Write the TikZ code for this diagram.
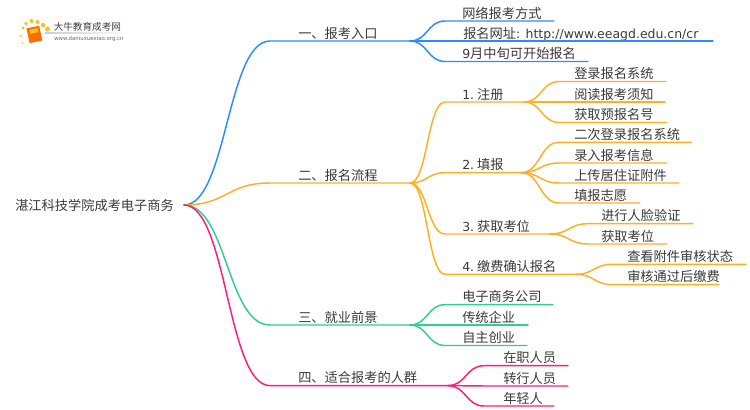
\documentclass[tikz,border=0pt]{standalone}
\usepackage{fontspec}
\setmainfont{DejaVu Sans}
\newfontfamily\cjk[Scale=1.06]{Noto Sans CJK SC}
\newcommand{\zh}[1]{{\cjk #1}}
\newcommand{\numgap}{\hspace{2.2pt}}
\definecolor{cblue}{HTML}{2B8CFF}
\definecolor{corange}{HTML}{FFAF24}
\definecolor{cgreen}{HTML}{2FCF90}
\definecolor{cpink}{HTML}{FF1C80}
\definecolor{ctext}{HTML}{3A3A3A}
\tikzset{
  label/.style={anchor=base west,inner sep=0pt,text=ctext,font=\fontsize{9.35pt}{12pt}\selectfont},
  wire/.style={line width=1.1pt,line cap=round},
}
% \branch{name}{parent}{colour}{x start}{x end}{y}{text x}{text}
\newcommand{\branch}[8]{%
  \coordinate (#1s) at (#4,#6);
  \coordinate (#1e) at (#5,#6);
  \node[label] (#1) at (#7,#6-2.8) {#8};
  \draw[wire,#3] (#2) .. controls +(0.5*#4-0.5*\px,0) and +(0.5*\px-0.5*#4,0) .. (#1s) -- (#1e);
}
\begin{document}
\begin{tikzpicture}[x=0.75pt,y=-0.75pt]
\useasboundingbox (0,0) rectangle (750,410);
\fill[white] (0,0) rectangle (750,410);
% logo
\foreach \a/\b/\r in {22.5/43/0.9,21/36/1.2,23/28/1.6,26/23.5/1.8,31.5/21/2,37.5/22/2,43/25/2.2,47.5/29/2.4}
  \fill[corange!85!yellow] (\a,\b) circle (\r);
\fill[orange!85!red,rotate around={12:(34,35)}] (28,27) rectangle (41,42);
\fill[corange!70!yellow,rotate around={12:(34,35)}] (30.5,29) rectangle (39,33);
\shade[left color=black!20,right color=white,draw=none] (45,32.8) rectangle (132,33.6);
\node[anchor=base west,inner sep=0pt,text=black!75,font=\fontsize{6.8pt}{8pt}\selectfont] (logoa) at (53.5,31) {\zh{大牛教育成考网}};
\node[anchor=base west,inner sep=0pt,text=black!60,font=\fontsize{4.05pt}{5pt}\selectfont] (logob) at (54,41) {www.daniuxuexiao.org.cn};
% root
\node[label] (root) at (15,210.5) {\zh{湛江科技学院成考电子商务}};
\coordinate (r) at (184,205);
\def\px{184}
\branch{a}{r}{cblue}{270}{410}{41}{298}{\zh{一、报考入口}}
\branch{b}{r}{corange}{270}{410}{183}{298}{\zh{二、报名流程}}
\branch{c}{r}{cgreen}{270}{410}{325}{298}{\zh{三、就业前景}}
\branch{d}{r}{cpink}{270}{448}{385.6}{298}{\zh{四、适合报考的人群}}
\coordinate (ae) at (410,41);
\def\px{410}
\branch{a1}{ae}{cblue}{445}{554}{21}{462}{\zh{网络报考方式}}
\branch{a2}{ae}{cblue}{445}{713}{41}{463}{\zh{报名网址}: http://www.eeagd.edu.cn/cr}
\branch{a3}{ae}{cblue}{445}{588}{61.5}{462}{9\zh{月中旬可开始报名}}
\branch{b1}{be}{corange}{445}{524}{102}{462}{1.\numgap\zh{注册}}
\branch{b2}{be}{corange}{445}{521}{172.7}{462}{2.\numgap\zh{填报}}
\branch{b3}{be}{corange}{445}{550}{234}{462}{3.\numgap\zh{获取考位}}
\branch{b4}{be}{corange}{445}{576}{274.3}{462}{4.\numgap\zh{缴费确认报名}}
\branch{c1}{ce}{cgreen}{445}{553}{304.7}{462}{\zh{电子商务公司}}
\branch{c2}{ce}{cgreen}{445}{528}{325}{462}{\zh{传统企业}}
\branch{c3}{ce}{cgreen}{445}{527}{345.5}{462}{\zh{自主创业}}
\def\px{524}
\branch{b11}{b1e}{corange}{559}{666}{81.5}{574}{\zh{登录报名系统}}
\branch{b12}{b1e}{corange}{559}{665}{102}{574}{\zh{阅读报考须知}}
\branch{b13}{b1e}{corange}{559}{667}{122.5}{574}{\zh{获取预报名号}}
\def\px{521}
\branch{b21}{b2e}{corange}{559}{691}{142.3}{574}{\zh{二次登录报名系统}}
\branch{b22}{b2e}{corange}{559}{667}{163}{574}{\zh{录入报考信息}}
\branch{b23}{b2e}{corange}{559}{679}{183}{574}{\zh{上传居住证附件}}
\branch{b24}{b2e}{corange}{559}{640}{203}{574}{\zh{填报志愿}}
\def\px{550}
\branch{b31}{b3e}{corange}{588}{693}{223.7}{601}{\zh{进行人脸验证}}
\branch{b32}{b3e}{corange}{588}{667}{244}{601}{\zh{获取考位}}
\def\px{576}
\branch{b41}{b4e}{corange}{612}{746}{264.3}{627}{\zh{查看附件审核状态}}
\branch{b42}{b4e}{corange}{612}{719}{284.6}{627}{\zh{审核通过后缴费}}
\def\px{448}
\branch{d1}{de}{cpink}{484}{568}{365.7}{503}{\zh{在职人员}}
\branch{d2}{de}{cpink}{484}{568}{386}{503}{\zh{转行人员}}
\branch{d3}{de}{cpink}{484}{554}{406}{503}{\zh{年轻人}}
\end{tikzpicture}
\end{document}
